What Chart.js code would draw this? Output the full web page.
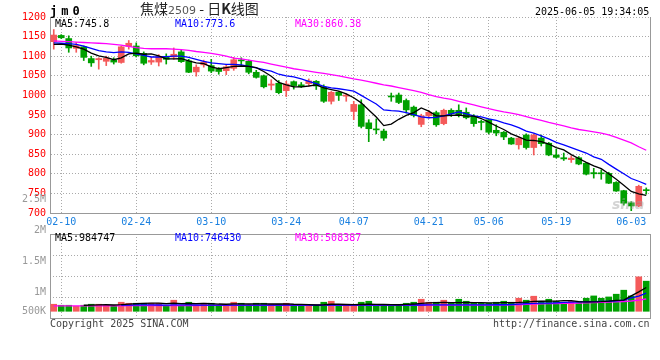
<!DOCTYPE html>
<html><head><meta charset="utf-8">
<script src="https://cdn.jsdelivr.net/npm/chart.js@4.4.1/dist/chart.umd.min.js"></script>
<style>
html,body{margin:0;padding:0;background:#fff;}
#wrap{position:relative;width:660px;height:360px;overflow:hidden;font-family:'DejaVu Sans Mono',monospace;}
canvas{position:absolute;left:0;}
.t{position:absolute;white-space:nowrap;font-size:10px;line-height:12px;font-family:'DejaVu Sans Mono',monospace;}
</style></head><body>
<div id="wrap">
<canvas id="c1" width="660" height="232" style="top:0"></canvas>
<div class="t" style="left:612px;top:196px;font-size:14px;line-height:16px;font-family:'DejaVu Sans',sans-serif;font-weight:bold;font-style:italic;color:rgba(160,160,160,0.45)">sina</div>
<canvas id="c2" width="660" height="175" style="top:185px"></canvas>
<div class="t" style="left:50px;top:4px;font-size:12px;line-height:14px;font-weight:bold;letter-spacing:4px;color:#000">jm0</div>
<div class="t" style="left:140px;top:0px;font-size:14px;line-height:16px;font-family:'Noto Sans CJK SC',sans-serif;color:#222">焦煤<span style="font-family:'DejaVu Sans',sans-serif;font-size:11px;color:#555">2509</span> - 日<b>K</b>线图</div>
<div class="t" style="left:535px;top:6px;color:#000">2025-06-05 19:34:05</div>
<div class="t" style="left:55px;top:18px;color:#000">MA5:745.8</div>
<div class="t" style="left:175px;top:18px;color:#0000ff">MA10:773.6</div>
<div class="t" style="left:295px;top:18px;color:#ff00ff">MA30:860.38</div>
<div class="t" style="left:55px;top:232px;color:#000">MA5:984747</div>
<div class="t" style="left:175px;top:232px;color:#0000ff">MA10:746430</div>
<div class="t" style="left:295px;top:232px;color:#ff00ff">MA30:508387</div>
<div class="t" style="left:50px;top:318px;color:#444">Copyright 2025 SINA.COM</div>
<div class="t" style="left:493px;top:318px;color:#444">http://finance.sina.com.cn</div>
</div>
<script>
const dates = ['02-07','02-10','02-11','02-12','02-13','02-14','02-17','02-18','02-19','02-20','02-21','02-24','02-25','02-26','02-27','02-28',
'03-03','03-04','03-05','03-06','03-07','03-10','03-11','03-12','03-13','03-14','03-17','03-18','03-19','03-20','03-21','03-24','03-25','03-26','03-27','03-28','03-31',
'04-01','04-02','04-03','04-07','04-08','04-09','04-10','04-11','04-14','04-15','04-16','04-17','04-18','04-21','04-22','04-23','04-24','04-25','04-28','04-29','04-30',
'05-06','05-07','05-08','05-09','05-12','05-13','05-14','05-15','05-16','05-19','05-20','05-21','05-22','05-23','05-26','05-27','05-28','05-29','05-30',
'06-03','06-04','06-05'];
const tickDates = ['02-10','02-24','03-10','03-24','04-07','04-21','05-06','05-19','06-03'];
const gridDates = ['02-10','02-24','03-10','03-24','04-07','04-21','05-06','05-19'];
const priceTicks = [700,750,800,850,900,950,1000,1050,1100,1150,1200];
const volTickValues = [2500000,2000000,1500000,1000000,500000];
const volTickLabels = ['2.5M','2M','1.5M','1M','500K'];

const opens = [1137,1153,1145,1120,1124,1094,1091,1087,1090,1084, 1125,1126,1107,1085,1085,1099,1098,1111,1088,1060,
 1078,1076,1067,1063,1069,1089,1087,1059,1050,1026, 1031,1012,1035,1027,1030,1036,1021,985,1008,998,
 959,976,930,914,909,998,1001,987,970,926, 948,956,928,962,962,957,947,933,938,911,
 906,891,874,899,867,891,878,848,841,836, 841,827,803,802,801,778,757,726,718,759];
const highs = [1168,1155,1152,1135,1126,1100,1096,1100,1096,1126, 1140,1134,1111,1097,1104,1106,1121,1115,1092,1078,
 1090,1092,1071,1078,1097,1096,1090,1064,1052,1040, 1038,1036,1037,1033,1042,1038,1027,1010,1010,1004,
 985,989,938,940,914,1006,1006,991,973,952, 962,960,965,966,976,968,951,937,940,925,
 908,893,893,902,902,899,880,863,853,846, 844,829,814,810,804,780,758,729,771,764];
const lows = [1118,1145,1110,1110,1089,1074,1067,1076,1080,1082, 1118,1098,1078,1079,1075,1080,1092,1084,1058,1049,
 1072,1058,1054,1053,1064,1077,1055,1044,1019,1014, 1004,997,1016,1020,1024,1015,982,978,987,985,
 938,917,882,902,885,985,979,955,945,920, 942,921,925,946,945,940,921,912,902,897,
 887,875,863,863,848,871,846,840,834,829, 823,797,789,786,775,755,720,706,716,748];
const closes = [1154,1147,1121,1127,1097,1083,1094,1095,1085,1124, 1133,1101,1082,1089,1099,1092,1105,1086,1059,1072,
 1085,1062,1061,1073,1091,1088,1059,1046,1022,1029, 1007,1029,1025,1022,1037,1024,985,1008,1000,1001,
 977,921,915,912,891,996,982,963,949,948, 957,925,962,953,951,943,928,931,906,904,
 894,876,891,867,899,877,848,842,838,840, 825,799,800,800,776,756,725,718,768,757];
const ma5 = [1130,1131,1128,1124,1118,1108,1101,1097,1091,1096, 1106,1108,1105,1106,1101,1093,1093,1094,1088,1083,
 1081,1073,1068,1071,1074,1075,1074,1071,1061,1049, 1033,1027,1022,1022,1024,1027,1019,1015,1011,1004,
 994,981,963,945,923,927,939,949,956,968, 960,948,948,949,950,947,947,941,932,922,
 913,902,894,886,885,882,876,867,861,849, 839,829,820,813,800,786,771,755,749,745];
const ma10 = [1134,1133,1132,1130,1126,1120,1114,1111,1109,1111, 1110,1106,1102,1098,1098,1099,1100,1100,1097,1092,
 1087,1083,1081,1079,1079,1078,1074,1070,1066,1062, 1054,1050,1047,1042,1036,1030,1023,1019,1017,1014,
 1011,1000,989,978,963,961,960,956,951,945, 943,944,948,953,958,953,948,945,940,936,
 930,925,918,909,904,897,889,880,874,867, 860,853,843,837,824,812,800,788,781,773];
const ma30 = [1139,1138,1137,1136,1135,1134,1133,1132,1130,1128, 1125,1122,1120,1119,1119,1119,1118,1117,1115,1112,
 1110,1107,1104,1100,1095,1093,1090,1087,1084,1080, 1076,1072,1068,1065,1062,1059,1056,1053,1050,1046,
 1042,1039,1035,1031,1027,1024,1020,1016,1012,1008, 1002,997,993,990,985,980,976,971,966,962,
 958,955,951,946,941,936,931,927,922,917, 913,910,907,904,899,893,886,879,869,860];

const volumes = [291000,249000,249000,208000,249000,291000,291000,249000,208000,374000, 332000,332000,332000,332000,332000,249000,457000,249000,374000,249000,
 332000,332000,249000,249000,374000,332000,249000,332000,332000,291000, 291000,332000,249000,249000,249000,249000,374000,415000,249000,249000,
 249000,374000,415000,249000,249000,249000,249000,332000,374000,498000, 374000,374000,457000,332000,498000,415000,332000,332000,332000,374000,
 415000,374000,540000,457000,623000,415000,498000,415000,374000,415000, 415000,540000,635000,540000,593000,706000,872000,635000,1424000,1245000];
const volMa5 = [null,null,null,null,250000,255000,265000,270000,260000,275000, 300000,315000,325000,340000,335000,320000,335000,320000,330000,320000,
 325000,320000,300000,290000,305000,310000,300000,305000,310000,300000, 300000,305000,290000,285000,275000,260000,270000,290000,290000,280000,
 275000,280000,290000,285000,280000,275000,270000,285000,300000,330000, 350000,360000,365000,360000,360000,365000,360000,355000,350000,350000,
 355000,360000,365000,380000,410000,415000,420000,420000,440000,440000, 400000,390000,390000,400000,420000,455000,460000,636000,802000,984747];
const volMa10 = [null,null,null,null,null,null,null,null,null,255000, 258000,262000,265000,262000,260000,258000,262000,265000,262000,260000,
 258000,256000,255000,254000,256000,258000,256000,255000,254000,253000, 252000,254000,253000,252000,251000,250000,252000,254000,255000,255000,
 256000,258000,258000,257000,256000,256000,257000,258000,259000,260000, 261000,262000,262000,263000,264000,265000,266000,267000,268000,269000,
 270000,280000,300000,315000,330000,335000,340000,350000,365000,378000, 386000,392000,400000,408000,415000,430000,460000,550000,630000,746430];
const volMa30 = [220000,221000,222000,223000,224000,225000,226000,227000,228000,229000, 230000,231000,232000,233000,234000,235000,236000,237000,238000,239000,
 240000,241000,242000,243000,244000,245000,246000,247000,248000,248000, 249000,249000,249000,249000,249000,249000,249000,249000,249000,249000,
 249000,249000,249000,249000,250000,250000,250000,250000,250000,250000, 251000,251000,251000,252000,252000,252000,253000,253000,254000,255000,
 255000,262000,270000,285000,300000,310000,318000,322000,326000,332000, 340000,350000,362000,372000,382000,392000,405000,425000,465000,508387];

const RED = '#f45a5a', GREEN = '#00a000', GRID = '#aaaaaa', AXIS = '#999999';
const FONT = {family:"'DejaVu Sans Mono', monospace", size:10};
const candleColors = opens.map((o,i) => closes[i] >= o ? RED : GREEN);
const isGridDate = i => gridDates.includes(dates[i]);

const common = {
  responsive:false, animation:false, devicePixelRatio:1,
  plugins:{legend:{display:false}, tooltip:{enabled:false}},
};

new Chart(document.getElementById('c1'), {
  type:'bar',
  data:{labels:dates, datasets:[
    {type:'line', data:ma5, borderColor:'#000000', borderWidth:1.3, pointRadius:0, order:0},
    {type:'line', data:ma10, borderColor:'#0000ff', borderWidth:1.3, pointRadius:0, order:0},
    {type:'line', data:ma30, borderColor:'#ff00ff', borderWidth:1.3, pointRadius:0, order:0},
    {data:lows.map((l,i)=>[l,highs[i]]), backgroundColor:candleColors, barThickness:1, grouped:false, order:2},
    {data:opens.map((o,i)=>[o,closes[i]]), backgroundColor:candleColors, barThickness:6, minBarLength:1, grouped:false, order:1}
  ]},
  options:{...common,
    layout:{padding:{top:17, right:10, left:0, bottom:0}},
    scales:{
      x:{type:'category', offset:true,
        grid:{offset:false, drawTicks:false, lineWidth:1, color:c => isGridDate(c.index) ? GRID : 'rgba(0,0,0,0)'},
        border:{color:AXIS, width:1, dash:[1,2]},
        ticks:{autoSkip:false, maxRotation:0, padding:3, color:'#1a80e0', font:FONT,
          callback:(v,i) => tickDates.includes(dates[i]) ? dates[i] : ''},
        afterFit:s => { s.height = 19; }},
      y:{min:700, max:1200,
        afterBuildTicks:s => { s.ticks = priceTicks.map(v => ({value:v})); },
        ticks:{color:'#ff0000', font:FONT, padding:4, autoSkip:false, callback:v => String(v)},
        grid:{drawTicks:false, color:GRID, lineWidth:1},
        border:{color:AXIS, width:1, dash:[1,2]},
        afterFit:s => { s.width = 50; }},
      yR:{position:'right', display:true, min:0, max:1,
        ticks:{display:false}, grid:{display:false, drawTicks:false},
        border:{color:AXIS, width:1},
        afterFit:s => { s.width = 0; }}
    }
  }
});

new Chart(document.getElementById('c2'), {
  type:'bar',
  data:{labels:dates, datasets:[
    {type:'line', data:volMa5, borderColor:'#000000', borderWidth:1.3, pointRadius:0, order:0, yAxisID:'yv'},
    {type:'line', data:volMa10, borderColor:'#0000ff', borderWidth:1.3, pointRadius:0, order:0, yAxisID:'yv'},
    {type:'line', data:volMa30, borderColor:'#ff00ff', borderWidth:1.3, pointRadius:0, order:0, yAxisID:'yv'},
    {data:volumes, backgroundColor:candleColors, barThickness:6, order:1, yAxisID:'yv'}
  ]},
  options:{...common,
    layout:{padding:{top:49, right:10, left:0, bottom:42}},
    scales:{
      x:{type:'category', offset:true,
        grid:{offset:false, drawTicks:false, lineWidth:1, color:c => isGridDate(c.index) ? GRID : 'rgba(0,0,0,0)'},
        border:{color:AXIS, width:1, dash:[1,2]},
        ticks:{display:false},
        afterFit:s => { s.height = 0; }},
      xt:{type:'category', position:'top', offset:true, display:true,
        grid:{display:false, drawTicks:false}, ticks:{display:false},
        border:{color:AXIS, width:1},
        afterFit:s => { s.height = 0; }},
      yl:{position:'left', min:580000, max:1945000,
        afterBuildTicks:s => { s.ticks = volTickValues.map(v => ({value:Math.max(v, 689000)})); },
        ticks:{color:'#999999', font:FONT, padding:4, autoSkip:false, callback:(v,i) => volTickLabels[i]},
        grid:{display:false, drawTicks:false},
        border:{color:AXIS, width:1},
        afterFit:s => { s.width = 50; }},
      yg:{position:'left', min:0, max:4,
        ticks:{display:false, stepSize:1}, grid:{drawTicks:false, color:GRID, lineWidth:1},
        border:{display:false, dash:[1,2]},
        afterFit:s => { s.width = 0; }},
      yv:{position:'left', min:-278000, max:3196000, display:true,
        ticks:{display:false}, grid:{display:false, drawTicks:false}, border:{display:false},
        afterFit:s => { s.width = 0; }},
      yR:{position:'right', display:true, min:0, max:1,
        ticks:{display:false}, grid:{display:false, drawTicks:false},
        border:{color:AXIS, width:1},
        afterFit:s => { s.width = 0; }}
    }
  }
});
</script>
</body></html>
